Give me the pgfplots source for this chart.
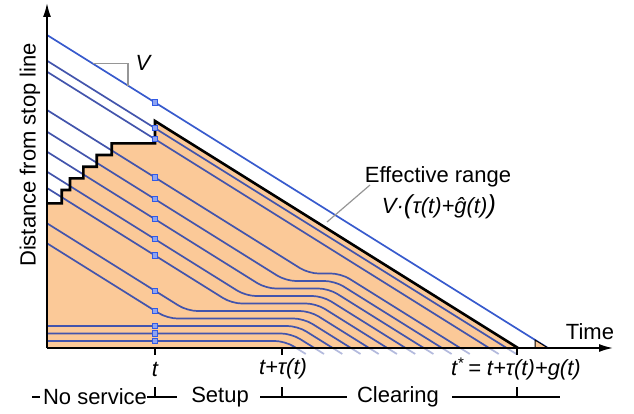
\documentclass[border=0pt]{standalone}
\usepackage{fontspec}
\setmainfont{Liberation Sans}
\usepackage{pgfplots}
\pgfplotsset{compat=1.18}
\usetikzlibrary{arrows.meta}
\definecolor{peach}{RGB}{251,201,152}
\definecolor{traj}{RGB}{66,84,172}
\definecolor{topblue}{RGB}{55,90,205}
\definecolor{mk}{RGB}{50,90,230}
\definecolor{annot}{RGB}{150,150,150}
\newcommand\lbl{\fontsize{11bp}{13bp}\selectfont}
\begin{document}
\begin{tikzpicture}
\begin{axis}[scale only axis, width=317bp, height=207bp,
  xmin=0, xmax=634, ymin=0, ymax=414, y dir=reverse,
  hide axis, clip=false]
\addplot[draw=none] coordinates {(0,0) (634,414)};
% queued / effective range area
\addplot[fill=peach, draw=none] coordinates {(47,348) (47,203.3) (61.7,203.3) (61.7,190) (70,190) (70,178.3) (83.3,178.3) (83.3,166.7) (96.7,166.7) (96.7,155) (111.7,155) (111.7,143.3) (155,143.3) (155,121) (518,348)} -- cycle;
% trajectories
\pgfplotsset{tr/.style={traj, line width=0.85bp, rounded corners=5bp}}
\addplot[topblue, line width=0.85bp] coordinates {(47,35) (548,348)};
\addplot[tr] coordinates {(47,60.7) (516.3,354)};
\addplot[tr] coordinates {(47,71.7) (498.7,354)};
\addplot[tr] coordinates {(47,110) (308.6,273.5) (341,273.5) (469.8,354)};
\addplot[tr] coordinates {(47,131.7) (285.9,281) (334.8,281) (451.6,354)};
\addplot[tr] coordinates {(47,151.7) (265.9,288.5) (328.6,288.5) (433.4,354)};
\addplot[tr] coordinates {(47,171.7) (245.9,296) (322.4,296) (415.2,354)};
\addplot[tr] coordinates {(47,188) (231.8,303.5) (316.1,303.5) (396.9,354)};
\addplot[tr] coordinates {(47,223.3) (187.3,311) (309.9,311) (378.7,354)};
\addplot[tr] coordinates {(47,243.3) (167.3,318.5) (303.7,318.5) (360.5,354)};
\addplot[tr] coordinates {(47,326) (297.5,326) (342.3,354)};
\addplot[tr] coordinates {(47,333.5) (291.2,333.5) (324,354)};
\addplot[tr] coordinates {(47,341) (285,341) (305.8,354)};
% fade below the axis
\addplot[fill=white, fill opacity=0.6, draw=none] coordinates {(270,348.8) (530,348.8) (530,357) (270,357)} -- cycle;
% last vehicle triangle
\addplot[fill=peach, draw=black, line width=0.5bp] coordinates {(535,340) (535,348) (548,348)} -- cycle;
% markers at t
\addplot[only marks, mark=square*, mark size=1.3bp, mark options={draw=mk, fill=mk!55!white, line width=0.5bp}] coordinates {(155,102.5) (155,128.2) (155,139.2) (155,177.5) (155,199.2) (155,219.2) (155,239.2) (155,255.5) (155,290.8) (155,310.8) (155,326) (155,333.5) (155,341)};
% boundary
\addplot[black, line width=1.3bp, line join=miter] coordinates {(47,203.3) (61.7,203.3) (61.7,190) (70,190) (70,178.3) (83.3,178.3) (83.3,166.7) (96.7,166.7) (96.7,155) (111.7,155) (111.7,143.3) (155,143.3) (155,121) (518,348)};
% axes
\addplot[black, line width=0.8bp, -{Latex[length=7bp, width=4bp]}] coordinates {(47,348) (613,348)};
\addplot[black, line width=0.8bp, -{Latex[length=7bp, width=4bp]}] coordinates {(47,348) (47,3)};
% ticks
\draw[black, line width=0.6bp] (axis cs:155,348) -- (axis cs:155,355);
\draw[black, line width=0.6bp] (axis cs:282,348) -- (axis cs:282,355);
\draw[black, line width=0.6bp] (axis cs:517,348) -- (axis cs:517,355);
% slope triangle and leader
\draw[annot, line width=0.6bp] (axis cs:93,63.75) -- (axis cs:128,63.75) -- (axis cs:128,85.6);
\draw[annot, line width=0.6bp] (axis cs:370,185) -- (axis cs:327,222);
% texts
\node[font=\lbl, rotate=90] at (axis cs:30,155) {Distance from stop line};
\node[font=\lbl\itshape] at (axis cs:143,63) {V};
\node[font=\lbl] at (axis cs:438,177) {Effective range};
\node[font=\lbl\itshape] at (axis cs:439,207) {V·{\fontsize{13bp}{13bp}\selectfont(}τ(t)+ĝ(t){\fontsize{13bp}{13bp}\selectfont)}};
\node[font=\lbl] at (axis cs:590,332) {Time};
\node[font=\lbl\itshape] at (axis cs:155,369) {t};
\node[font=\lbl\itshape] at (axis cs:283,369) {t+τ(t)};
\node[font=\lbl\itshape] at (axis cs:516,369) {t\textsuperscript{*}\,= t+τ(t)+g(t)};
\node[font=\lbl] at (axis cs:95,397) {No service};
\node[font=\lbl] at (axis cs:220,397) {Setup};
\node[font=\lbl] at (axis cs:398,397) {Clearing};
\draw[black, line width=0.6bp] (axis cs:32,397) -- (axis cs:40,397);
\draw[black, line width=0.6bp] (axis cs:147,397) -- (axis cs:177,397);
\draw[black, line width=0.6bp] (axis cs:155,387) -- (axis cs:155,397);
\draw[black, line width=0.6bp] (axis cs:260,397) -- (axis cs:347,397);
\draw[black, line width=0.6bp] (axis cs:282,387) -- (axis cs:282,397);
\draw[black, line width=0.6bp] (axis cs:452,397) -- (axis cs:560,397);
\draw[black, line width=0.6bp] (axis cs:517,387) -- (axis cs:517,397);
\end{axis}
\end{tikzpicture}
\end{document}
